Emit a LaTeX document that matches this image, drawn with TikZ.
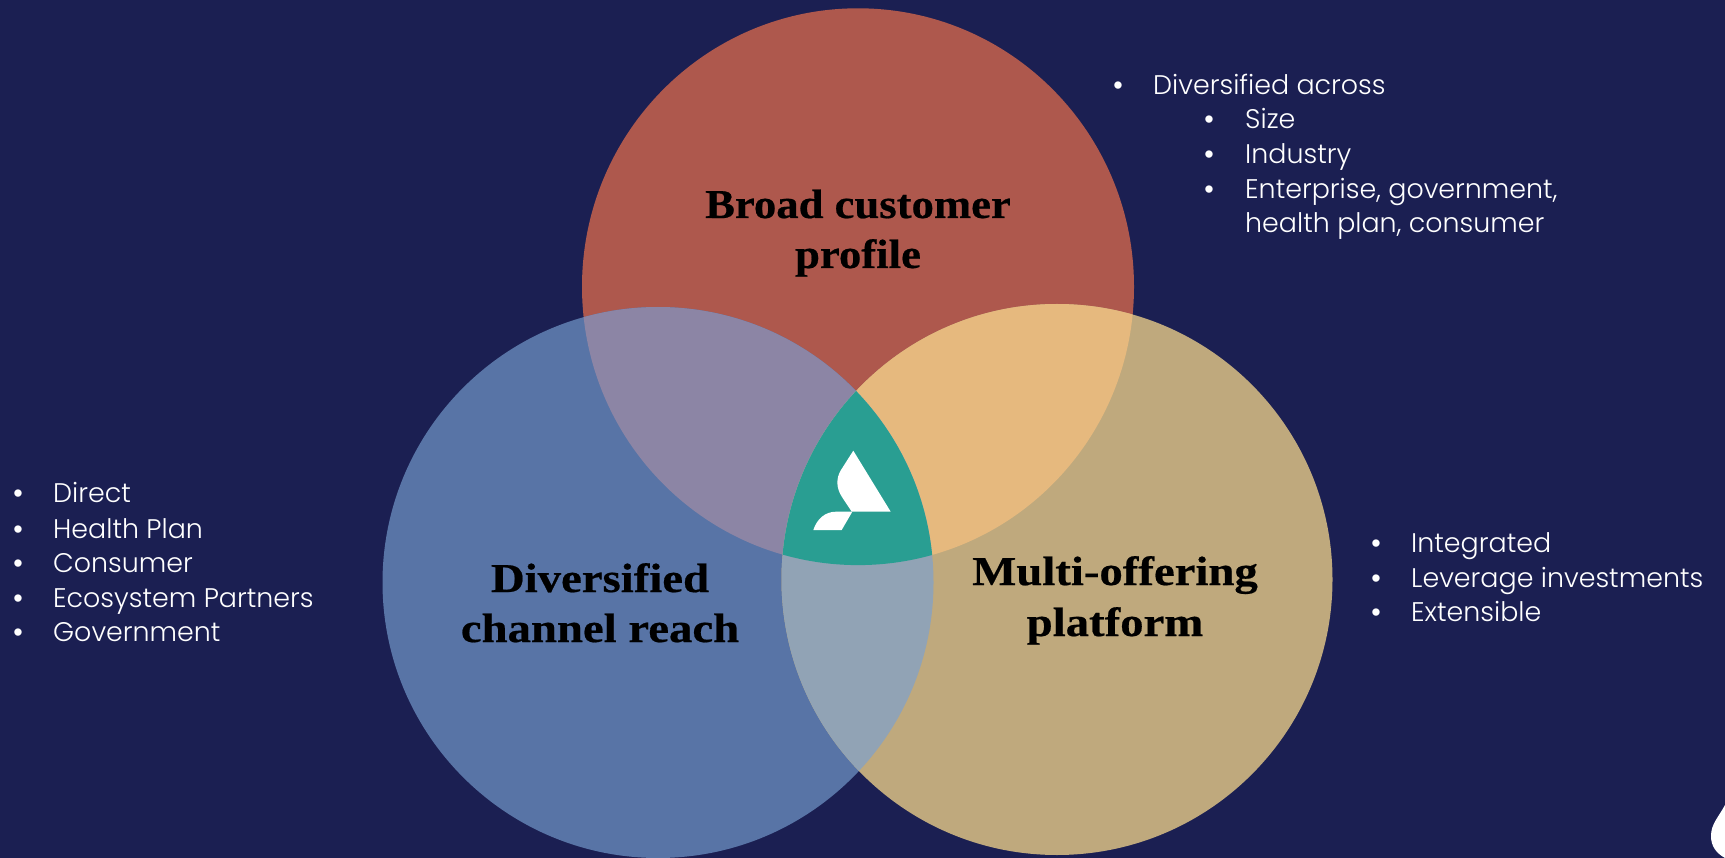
\documentclass[tikz,border=0pt]{standalone}
\usepackage{fontspec}
\setmainfont{Poppins Light}
\newfontfamily\bulfont{Liberation Sans}
\newfontfamily\headfontA[FakeStretch=1.09,FakeBold=0.5]{Liberation Serif Bold}
\newfontfamily\headfontB[FakeStretch=1.14,FakeBold=0.5]{Liberation Serif Bold}
\definecolor{bgnavy}{HTML}{1B1F52}
\definecolor{cred}{HTML}{AE584D}
\definecolor{cblue}{HTML}{5874A6}
\definecolor{ctan}{HTML}{BFA97D}
\definecolor{ovpurple}{HTML}{8C85A5}
\definecolor{ovorange}{HTML}{E6B97E}
\definecolor{ovgrey}{HTML}{91A3B5}
\definecolor{cteal}{HTML}{299E92}
\tikzset{
  x=1pt,y=-1pt,
  listtext/.style={text=white,anchor=base west,inner sep=0pt,font=\fontsize{26.9}{30}\selectfont},
  bul/.style={text=white,anchor=base,inner sep=0pt,font=\bulfont\fontsize{27}{30}\selectfont},
  headA/.style={text=black,align=center,inner sep=0pt,font=\headfontA\fontsize{41}{50}\selectfont},
  headB/.style={text=black,align=center,inner sep=0pt,font=\headfontB\fontsize{41}{50}\selectfont},
}
\newcommand{\circA}{(858,286.7) ellipse[x radius=276,y radius=278.4]}
\newcommand{\circB}{(658,582.5) ellipse[x radius=275.5,y radius=275.5]}
\newcommand{\circC}{(1057,579.5) ellipse[x radius=275.5,y radius=275.5]}
\begin{document}
\begin{tikzpicture}
\useasboundingbox (0,0) rectangle (1725,858);
\fill[bgnavy] (0,0) rectangle (1725,858);
\fill[cred] \circA;
\fill[cblue] \circB;
\fill[ctan] \circC;
\begin{scope}\clip \circA; \fill[ovpurple] \circB; \end{scope}
\begin{scope}\clip \circA; \fill[ovorange] \circC; \end{scope}
\begin{scope}\clip \circB; \fill[ovgrey] \circC; \end{scope}
\begin{scope}\clip \circA; \clip \circB; \fill[cteal] \circC; \end{scope}
% logo
\fill[white] (853.3,450.7) -- (890.7,511.7) -- (851.7,511.7) -- (842,497) .. controls (836,488) and (836,478) .. (841,470) -- cycle;
\fill[white] (813.3,530) .. controls (817,519) and (825,511.7) .. (836,511.7) -- (852.3,511.7) -- (841.7,530) -- cycle;
% corner shape
\fill[white] (1725,805) .. controls (1718,818) and (1711,824) .. (1711,836) .. controls (1711,846) and (1716,853) .. (1725,858) -- cycle;
% headings
\node[headA,anchor=base] (h1) at (858,218) {Broad customer};
\node[headA,anchor=base] (h1b) at (858,268) {profile};
\node[headB,anchor=base] (h2) at (600,592) {Diversified};
\node[headB,anchor=base] (h2b) at (600,642) {channel reach};
\node[headB,anchor=base] (h3) at (1115,585) {Multi-offering};
\node[headB,anchor=base] (h3b) at (1115,636) {platform};
% right top list
\node[bul] (b1) at (1118,95) {•}; \node[listtext] (t1) at (1153,95) {Diversified across};
\node[bul] (b2) at (1209,129) {•}; \node[listtext] (t2) at (1245,129) {Size};
\node[bul] (b3) at (1209,164) {•}; \node[listtext] (t3) at (1245,164) {Industry};
\node[bul] (b4) at (1209,199) {•}; \node[listtext] (t4) at (1245,199) {Enterprise, government,};
\node[listtext] (t5) at (1245,233) {health plan, consumer};
% left list
\node[bul] (l1) at (18,503) {•}; \node[listtext] (lt1) at (53,503) {Direct};
\node[bul] (l2) at (18,538) {•}; \node[listtext] (lt2) at (53,538) {Health Plan};
\node[bul] (l3) at (18,572) {•}; \node[listtext] (lt3) at (53,572) {Consumer};
\node[bul] (l4) at (18,607) {•}; \node[listtext] (lt4) at (53,607) {Ecosystem Partners};
\node[bul] (l5) at (18,641) {•}; \node[listtext] (lt5) at (53,641) {Government};
% right list
\node[bul] (r1) at (1376,552) {•}; \node[listtext] (rt1) at (1411,552) {Integrated};
\node[bul] (r2) at (1376,587) {•}; \node[listtext] (rt2) at (1411,587) {Leverage investments};
\node[bul] (r3) at (1376,621) {•}; \node[listtext] (rt3) at (1411,621) {Extensible};
\end{tikzpicture}
\end{document}
